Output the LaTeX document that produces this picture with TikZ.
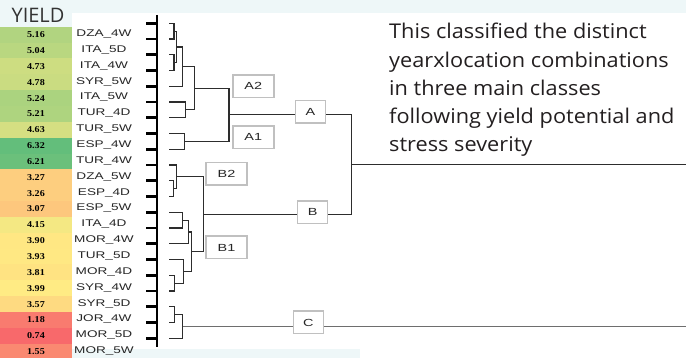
\documentclass[tikz,border=0pt]{standalone}
\usepackage{fontspec}
\usepackage{graphicx}
\setmainfont{Liberation Serif}
\newfontfamily\labfont{Liberation Sans}
\newfontfamily\parafont{Open Sans}
\definecolor{lo}{HTML}{F8696B}
\definecolor{mi}{HTML}{FFEB84}
\definecolor{hi}{HTML}{63BE7B}
\definecolor{bgc}{RGB}{238,247,248}
\definecolor{dk}{RGB}{45,45,45}
\definecolor{txt}{RGB}{35,31,32}
\newcommand\yv[1]{\scalebox{1.12}[1]{#1}}
\newcommand\lb[1]{\scalebox{1.4}[1]{#1}}
\newcommand\pw[1]{\scalebox{1.07}[1]{#1}}
\tikzset{
  cell/.style={minimum width=72pt, minimum height=15.9pt, inner sep=0pt, outer sep=0pt,
    font=\fontsize{9}{9}\selectfont\bfseries, text=black},
  lbl/.style={inner sep=0pt, font=\labfont\fontsize{9.7}{10}\selectfont, text=black!85},
  dl/.style={line width=1.2pt, draw=dk},
  rl/.style={line width=1.3pt, draw=dk},
  cl/.style={line width=1.8pt, draw={rgb,255:red,110;green,110;blue,110}},
  tick/.style={line width=2.6pt, draw=black},
  cbox/.style={draw={rgb,255:red,192;green,192;blue,192}, line width=1.5pt, fill=white,
    minimum width=41pt, minimum height=22.5pt, inner sep=0pt,
    font=\labfont\fontsize{10.3}{10}\selectfont, text=black!85},
  mbox/.style={cbox, minimum width=30pt},
  para/.style={anchor=base west, inner sep=0pt, font=\parafont\fontsize{20.3}{24}\selectfont, text=txt},
}
\begin{document}
\begin{tikzpicture}[x=1pt,y=-1pt]
\useasboundingbox (0,0) rectangle (686,358);
% backgrounds
\fill[bgc] (0,0) rectangle (686,358);
\fill[white] (72,13) rectangle (686,349);
\fill[white] (360,349) rectangle (686,358);
\node[anchor=base, inner sep=0pt, font=\parafont\fontsize{20}{20}\selectfont, text=black!80] (yh) at (38,22.7) {YIELD};
% cells and labels
\foreach \i/\v/\c/\l in {
 0/5.16/hi!50!mi/DZA\_4W,
 1/5.04/hi!45!mi/ITA\_5D,
 2/4.73/hi!32!mi/ITA\_4W,
 3/4.78/hi!34!mi/SYR\_5W,
 4/5.24/hi!54!mi/ITA\_5W,
 5/5.21/hi!52!mi/TUR\_4D,
 6/4.63/hi!27!mi/TUR\_5W,
 7/6.32/hi/ESP\_4W,
 8/6.21/hi!95!mi/TUR\_4W,
 9/3.27/mi!78!lo/DZA\_5W,
 10/3.26/mi!78!lo/ESP\_4D,
 11/3.07/mi!72!lo/ESP\_5W,
 12/4.15/hi!7!mi/ITA\_4D,
 13/3.90/mi!97!lo/MOR\_4W,
 14/3.93/mi!98!lo/TUR\_5D,
 15/3.81/mi!94!lo/MOR\_4D,
 16/3.99/mi/SYR\_4W,
 17/3.57/mi!87!lo/SYR\_5D,
 18/1.18/mi!14!lo/JOR\_4W,
 19/0.74/lo/MOR\_5D,
 20/1.55/mi!25!lo/MOR\_5W}{
  \node[cell, fill=\c] (y\i) at (36, 34.7+15.85*\i) {\yv{\v}};
  \node[lbl] (n\i) at (104, 34.2+15.85*\i) {\lb{\l}};
}
% axis
\coordinate (axT) at (157,15);
\coordinate (axB) at (157,346.7);
\draw[line width=2.2pt] (axT) -- (axB);
\foreach \k in {0,...,20}{
  \coordinate (L\k) at (169.3, 23.3+15.75*\k);
  \draw[tick] (146, 23.3+15.75*\k) -- (157, 23.3+15.75*\k);
}
% joins
\coordinate (j01) at (174,31.18);
\coordinate (j23) at (174,62.68);
\coordinate (ja) at (176.7,46.93);
\coordinate (jb) at (182.7,66.6);
\coordinate (j56) at (185.7,109.9);
\coordinate (jc) at (194.3,88.3);
\coordinate (j78) at (184.3,141.4);
\coordinate (jA) at (229,114.9);
\coordinate (j1011) at (173.3,188.7);
\coordinate (jd) at (176.7,176.9);
\coordinate (j1213) at (182.3,220.2);
\coordinate (je) at (188.3,232);
\coordinate (j1617) at (174.3,283.2);
\coordinate (jf) at (183.3,271.4);
\coordinate (jg) at (191.7,251.7);
\coordinate (jB) at (203.3,214.3);
\coordinate (jR) at (351.7,164.6);
\coordinate (j1819) at (174.3,314.7);
\coordinate (jC) at (182.7,326.5);
\coordinate (eR) at (686,164.6);
\coordinate (eC) at (686,326.5);
\draw[dl] (L0) -| (j01) |- (L1);
\draw[dl] (L2) -| (j23) |- (L3);
\draw[dl] (j01) -| (ja) |- (j23);
\draw[dl] (ja) -| (jb) |- (L4);
\draw[dl] (L5) -| (j56) |- (L6);
\draw[dl] (jb) -| (jc) |- (j56);
\draw[dl] (L7) -| (j78) |- (L8);
\draw[dl] (jc) -| (jA) |- (j78);
\draw[dl] (L10) -| (j1011) |- (L11);
\draw[dl] (L9) -| (jd) |- (j1011);
\draw[dl] (L12) -| (j1213) |- (L13);
\draw[dl] (j1213) -| (je) |- (L14);
\draw[dl] (L16) -| (j1617) |- (L17);
\draw[dl] (L15) -| (jf) |- (j1617);
\draw[dl] (je) -| (jg) |- (jf);
\draw[dl] (jd) -| (jB) |- (jg);
\draw[dl] (L18) -| (j1819) |- (L19);
\draw[dl] (j1819) -| (jC) |- (L20);
% boxes
\node[cbox] (A2) at (253.3,86.3) {\lb{A2}};
\node[cbox] (A1) at (253.3,137.3) {\lb{A1}};
\node[cbox] (B2) at (226.5,173.8) {\lb{B2}};
\node[cbox] (B1) at (226.5,247.5) {\lb{B1}};
\node[mbox] (A) at (310.5,111.7) {\lb{A}};
\node[mbox] (B) at (312.7,212.2) {\lb{B}};
\node[mbox] (C) at (308.3,322.5) {\lb{C}};
\draw[dl] (jA) -- (jA -| A.west);
\draw[dl] (jB) -- (jB -| B.west);
\draw[dl] (jA -| A.east) -| (jR) |- (jB -| B.east);
\draw[rl] (jR) -- (eR);
\draw[cl] (jC) -- (jC -| C.west);
\draw[cl] (jC -| C.east) -- (eC);
% paragraph
\node[para] (t1) at (389,39) {\pw{This classified the distinct}};
\node[para] (t2) at (389,67.2) {\pw{yearxlocation combinations}};
\node[para] (t3) at (389,95.4) {\pw{in three main classes}};
\node[para] (t4) at (389,123.6) {\pw{following yield potential and}};
\node[para] (t5) at (389,151.8) {\pw{stress severity}};
\end{tikzpicture}
\end{document}
